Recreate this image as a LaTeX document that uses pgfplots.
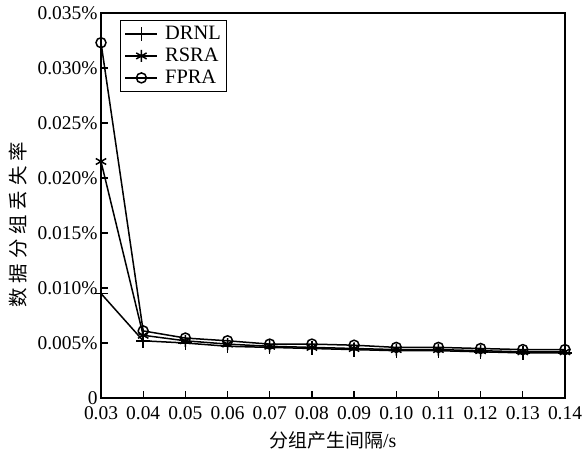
\documentclass[border=0pt]{standalone}
\usepackage{pgfplots}
\pgfplotsset{compat=1.18}
\usepackage{fontspec}
\setmainfont{Liberation Serif}
\newfontfamily\cjk{Noto Sans CJK SC}
\begin{document}
\begin{tikzpicture}
\begin{axis}[
    name=ax,
    scale only axis,
    width=464bp, height=385bp,
    xmin=0.03, xmax=0.14,
    ymin=0, ymax=0.035,
    scaled ticks=false,
    xtick={0.03,0.04,0.05,0.06,0.07,0.08,0.09,0.10,0.11,0.12,0.13,0.14},
    xticklabels={0.03,0.04,0.05,0.06,0.07,0.08,0.09,0.10,0.11,0.12,0.13,0.14},
    ytick={0,0.005,0.010,0.015,0.020,0.025,0.030,0.035},
    yticklabels={0,0.005\%,0.010\%,0.015\%,0.020\%,0.025\%,0.030\%,0.035\%},
    tick pos=left,
    tick align=inside,
    major tick length=7bp,
    axis line style={line width=1.4bp},
    every tick/.style={line width=1.3bp, black},
    ticklabel style={font=\fontsize{19.5}{19.5}\selectfont},
    xticklabel style={yshift=-5bp},
    xlabel={\cjk\fontsize{19}{19}\selectfont 分组产生间隔\rmfamily\fontsize{20}{20}\selectfont/s},
    ylabel={\cjk\fontsize{19.5}{19.5}\selectfont 数\hspace{5bp}据\hspace{5bp}分\hspace{5bp}组\hspace{5bp}丢\hspace{5bp}失\hspace{5bp}率},
    xlabel style={at={(axis description cs:0.5,0)}, anchor=center, yshift=-42bp},
    ylabel style={at={(axis description cs:0,0.45)}, anchor=center, yshift=83bp},
    legend style={at={(0.041,0.982)}, anchor=north west, draw=black, line width=1.3bp,
        font=\fontsize{20.5}{20.5}\selectfont, row sep=3bp, column sep=5bp,
        inner xsep=4bp, inner ysep=4bp},
    legend cell align=left,
    legend image code/.code={\draw[mark repeat=2,mark phase=2,#1] plot coordinates {(0bp,0bp) (16bp,0bp) (32bp,0bp)};},
    every axis plot/.append style={line width=1.5bp, black},
]
\addplot[mark=+, mark size=7bp] coordinates {
(0.03,0.0095) (0.04,0.0052) (0.05,0.0050) (0.06,0.0047) (0.07,0.0046) (0.08,0.0045)
(0.09,0.0044) (0.10,0.0043) (0.11,0.0043) (0.12,0.0042) (0.13,0.0041) (0.14,0.0041)};
\addlegendentry{DRNL}
\addplot[mark=asterisk, mark size=6bp] coordinates {
(0.03,0.0215) (0.04,0.0057) (0.05,0.0052) (0.06,0.0049) (0.07,0.0047) (0.08,0.0046)
(0.09,0.0045) (0.10,0.0044) (0.11,0.0044) (0.12,0.0043) (0.13,0.0042) (0.14,0.0042)};
\addlegendentry{RSRA}
\addplot[mark=o, mark size=5bp] coordinates {
(0.03,0.0323) (0.04,0.0061) (0.05,0.00545) (0.06,0.0052) (0.07,0.0049) (0.08,0.0049)
(0.09,0.0048) (0.10,0.0046) (0.11,0.0046) (0.12,0.0045) (0.13,0.0044) (0.14,0.0044)};
\addlegendentry{FPRA}
\end{axis}
\path[use as bounding box] ([xshift=-101bp,yshift=-53bp]ax.south west) rectangle ++(586bp,451bp);
\end{tikzpicture}
\end{document}
